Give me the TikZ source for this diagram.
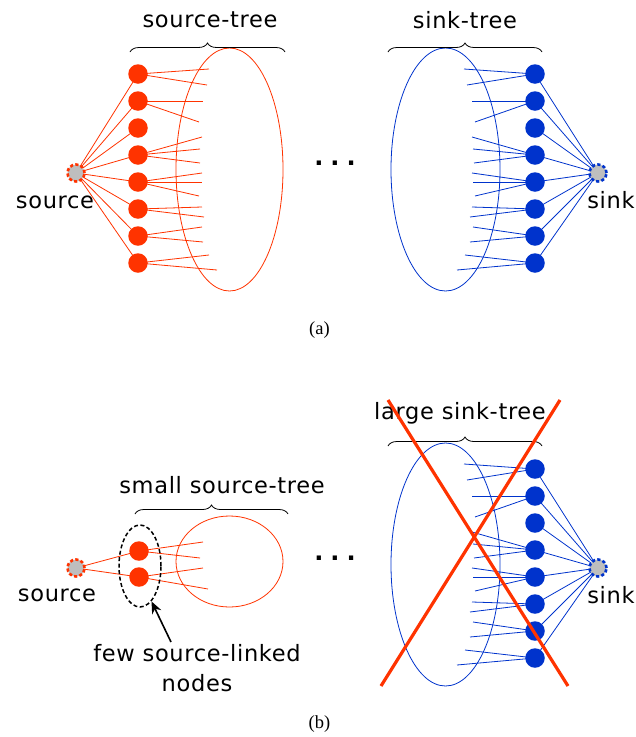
\documentclass[tikz,border=0pt]{standalone}
\usepackage{fontspec}
\setmainfont[LetterSpace=3]{DejaVu Sans}
\newfontfamily\capfont{Liberation Serif}
\usetikzlibrary{decorations.pathreplacing,backgrounds,arrows.meta,shapes.geometric}

\definecolor{srcred}{RGB}{255,51,0}
\definecolor{snkblue}{RGB}{0,51,204}
\definecolor{termgray}{RGB}{190,190,190}

\tikzset{
  rnode/.style={circle,fill=srcred,inner sep=0pt,minimum size=19.5pt},
  bnode/.style={circle,fill=snkblue,inner sep=0pt,minimum size=19.5pt},
  term/.style={circle,fill=termgray,line width=2.6pt,dash pattern=on 3.2pt off 2.2pt,
               minimum size=17pt,inner sep=0pt},
  rline/.style={srcred,line width=0.8pt},
  bline/.style={snkblue,line width=0.8pt},
  lbl/.style={font=\fontsize{22.5}{30}\selectfont,inner sep=0pt},
  caption/.style={font=\capfont\fontsize{18.5}{20}\selectfont,inner sep=0pt},
  dots/.style={font=\bfseries\fontsize{24}{24}\selectfont,inner sep=0pt},
  bracestyle/.style={decorate,decoration={brace,amplitude=9pt},line width=0.8pt},
  xline/.style={srcred,line width=3.2pt},
  % blue sink side: ellipse, eight nodes, their links and the sink
  sinktree/.pic={
    \draw[bline] (445.5,169.5) ellipse [x radius=54.5pt, y radius=121.5pt];
    \foreach \i/\y in {1/74,2/101,3/128,4/155,5/182,6/209,7/236,8/263}
      \node[bnode] (-b\i) at (535,\y) {};
    \node[term,draw=snkblue] (-snk) at (598,173) {};
    \node[lbl] (-lbl) at (611,200) {sink};
    \begin{pgfonlayer}{background}
      \foreach \i in {1,...,8} \draw[bline] (-snk.center) -- (-b\i.center);
      \foreach \i/\x/\y in {1/464/69,1/467/85,2/472/101,2/475/122,
                            4/472/137,4/473/149,4/474/163,
                            5/472/173,5/473/182,5/475/196,
                            6/472/207,6/470/217,7/473/227,7/470/242,
                            8/465/255,8/457/270}
        \draw[bline] (-b\i.center) -- (\x,\y);
    \end{pgfonlayer}
  }
}

\begin{document}
\begin{tikzpicture}[x=1pt,y=-1pt]
\useasboundingbox (0,0) rectangle (636,737);

% ---------- (a) ----------
\draw[rline] (229.5,169.5) ellipse [x radius=53.5pt, y radius=121.5pt];
\foreach \i/\y in {1/74,2/101,3/128,4/155,5/182,6/209,7/236,8/263}
  \node[rnode] (r\i) at (138,\y) {};
\node[term,draw=srcred] (src) at (76,173) {};
\node[lbl] (srclbl) at (55,202) {source};
\begin{pgfonlayer}{background}
  \foreach \i in {1,...,8} \draw[rline] (src.center) -- (r\i.center);
  \foreach \i/\x/\y in {1/209/69,1/207/85,2/203/101,2/199/122,
                        4/202/137,4/200/149,4/200/163,
                        5/202/173,5/202/182,5/199/196,
                        6/202/207,6/204/217,7/202/227,7/203/242,
                        8/209/255,8/217/270}
    \draw[rline] (r\i.center) -- (\x,\y);
\end{pgfonlayer}
\draw[bracestyle] (130,52) -- (285,52);
\node[lbl] (srctree) at (210,20) {source-tree};

\node[dots] (dotsa) at (335,163) {.\hspace{7pt}.\hspace{7pt}.};

\pic (A) at (0,0) {sinktree};
\draw[bracestyle] (388,52) -- (542,52);
\node[lbl] (snktree) at (465,20) {sink-tree};

\node[caption] (capa) at (319.5,330) {(a)};

% ---------- (b) ----------
\draw[rline] (229.5,561.5) ellipse [x radius=53.5pt, y radius=45.5pt];
\node[rnode] (s1) at (139,551) {};
\node[rnode] (s2) at (139,577) {};
\node[term,draw=srcred] (srcb) at (76,568) {};
\node[lbl] (srcblbl) at (57,595) {source};
\node[draw,line width=1.5pt,dash pattern=on 4pt off 2.5pt,ellipse,
      minimum width=42pt,minimum height=82pt,inner sep=0pt] (grp) at (140,566) {};
\begin{pgfonlayer}{background}
  \draw[rline] (srcb.center) -- (s1.center);
  \draw[rline] (srcb.center) -- (s2.center);
  \foreach \n/\x/\y in {s1/203/542,s1/200/558,s2/203/568,s2/208/589}
    \draw[rline] (\n.center) -- (\x,\y);
\end{pgfonlayer}
\draw[bracestyle] (135,514) -- (288,514);
\node[lbl] (smalltree) at (222,485) {small source-tree};

\node[lbl,align=center] (few) at (197,668) {few source-linked\\nodes};
\draw[line width=1.6pt,-{Stealth[length=12pt,width=10pt]}] (171,642) -- (grp.-72);

\node[dots] (dotsb) at (335,558) {.\hspace{7pt}.\hspace{7pt}.};

\pic (B) at (0,395) {sinktree};
\draw[bracestyle] (388,446) -- (542,446);
\node[lbl] (largetree) at (460,413) {large sink-tree};
\draw[xline] (388,400) -- (568,686);
\draw[xline] (560,400) -- (381,686);

\node[caption] (capb) at (319.5,724) {(b)};
\end{tikzpicture}
\end{document}
